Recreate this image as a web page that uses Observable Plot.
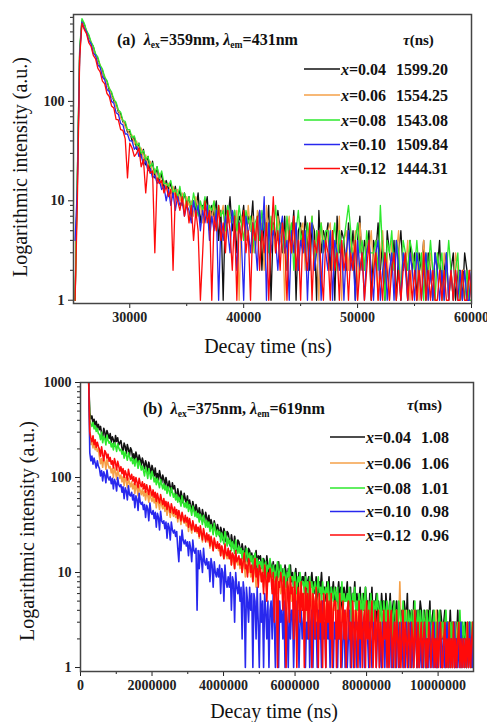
<!DOCTYPE html>
<html><head><meta charset="utf-8">
<script src="https://cdn.jsdelivr.net/npm/d3@7"></script>
<script src="https://cdn.jsdelivr.net/npm/@observablehq/plot@0.6"></script>
<style>
body{margin:0;background:#fff;}
#wrap{position:relative;width:487px;height:722px;overflow:hidden;background:#fff;}
#wrap svg{position:absolute;left:0;display:block;}
</style></head><body><div id="wrap"></div>
<script>
// ---------- data ----------
const seriesNames = ["x=0.04", "x=0.06", "x=0.08", "x=0.10", "x=0.12"];
const seriesColors = ["#111111", "#f5a048", "#2ee82e", "#2828ee", "#ff0a0a"];
const tauA = ["1599.20", "1554.25", "1543.08", "1509.84", "1444.31"];
const tauB = ["1.08", "1.06", "1.01", "0.98", "0.96"];

// panel (a): time channels (ns)
const startA = 25200, stepA = 200;
const blackA = [1,18,320,650,600,500,455,385,355,290,
268,222,205,170,158,130,120,101,95,78,
75,62,60,49,50,40,44,33,38,27,
33,23,28,19,25,17,22,15,19,13,
16,13,15,11,14,10,13,9,12,9,
11,7,10,8,12,6,9,8,11,5,
9,7,10,4,8,1,9,6,11,5,
8,3,7,6,9,4,7,5,10,3,
6,8,2,7,5,9,1,6,4,8,
5,3,7,2,6,4,8,1,5,6,
3,7,4,2,6,5,1,8,3,5,
4,6,2,5,1,7,3,5,4,2,
6,3,5,1,4,7,2,4,3,5,
1,4,3,6,2,4,1,5,3,2,
4,1,3,5,2,3,1,4,2,3,
1,3,2,4,1,3,2,1,3,2,
4,1,2,3,1,2,3,1,2,2,
1,3,2,1,2];
const orangeA = [1,15,300,640,560,520,430,400,330,300,
250,235,190,180,145,138,110,108,88,82,
68,65,55,52,45,46,37,40,31,34,
26,29,22,25,19,21,16,19,14,16,
14,15,12,14,11,13,10,12,8,11,
9,10,7,11,8,9,6,10,7,9,
6,10,5,8,7,9,4,8,6,7,
5,8,1,7,6,4,9,5,7,3,
8,5,6,2,9,4,6,5,3,7,
4,6,1,5,7,3,4,6,2,5,
6,2,5,4,7,3,5,1,6,4,
3,5,6,2,4,3,7,1,4,5,
2,4,3,5,1,6,3,2,4,3,
5,2,4,1,3,5,2,3,1,4,
2,3,5,1,3,2,4,1,3,2,
3,1,2,4,2,1,3,2,1,3,
2,1,3,2,1,2,1,3,2,1,
2,2,1,2,2];
const greenA = [1,20,340,680,615,515,470,398,360,300,
278,230,212,176,162,135,125,104,98,82,
78,64,63,52,52,43,45,36,38,30,
32,26,28,22,24,19,22,17,20,15,
15,14,16,12,13,11,14,10,12,9,
11,8,12,9,7,10,8,11,7,9,
8,10,6,9,7,8,5,9,7,6,
8,5,9,6,4,8,6,7,3,6,
7,4,8,5,6,3,7,5,9,4,
6,5,3,7,4,6,2,5,8,4,
5,3,6,4,7,2,5,4,6,3,
5,5,3,4,6,2,5,3,4,6,
9,5,2,4,6,3,4,2,5,3,
3,3,4,2,9,3,1,4,3,5,
2,4,3,1,4,3,2,4,3,2,
4,2,3,1,3,2,4,2,1,3,
2,3,1,2,4,2,1,2,3,1,
2,1,2,1,1];
const blueA = [4,14,290,630,545,500,410,380,305,290,
232,220,176,165,132,126,100,96,77,74,
60,58,47,47,40,40,33,35,28,29,
23,25,20,21,17,18,15,16,13,14,
10,13,9,12,8,11,9,10,7,9,
8,6,10,7,9,5,8,6,9,4,
7,5,8,1,6,4,7,5,3,8,
5,2,6,4,1,7,5,3,6,4,
2,8,4,11,1,6,3,5,4,2,
5,7,3,4,1,5,3,6,2,4,
3,5,1,4,6,2,3,5,1,4,
3,2,5,1,4,3,2,4,1,3,
5,2,3,1,4,2,3,1,3,4,
2,1,3,4,1,2,3,1,2,3,
1,4,2,1,3,2,1,3,2,1,
3,2,1,2,3,1,2,1,3,2,
1,2,1,3,1,2,1,2,1,2,
1,2,1,1,2];
const redA = [1,10,270,610,530,480,390,358,290,268,
215,198,160,150,120,112,90,86,66,65,
52,51,42,17,38,34,28,30,34,22,
26,12,23,19,20,3,17,15,16,12,
14,11,13,2,12,10,8,11,7,10,
6,9,4,8,5,1,3,10,6,8,
1,7,5,9,4,6,3,8,5,2,
7,1,6,4,8,3,5,1,6,4,
7,2,5,3,6,1,4,11,3,5,
2,6,4,1,5,3,7,2,4,1,
5,3,2,6,1,4,3,5,2,1,
4,3,1,5,2,3,1,4,2,3,
1,3,2,4,1,2,3,1,2,4,
1,2,3,1,2,1,3,2,1,2,
3,1,2,1,2,3,1,2,1,2,
1,2,1,3,1,2,1,2,1,1,
2,1,2,1,1,2,1,2,1,1,
2,1,1,2,1];

// panel (b): time channels (ns)
const startB = 230000, stepB = 30000;
const blackB = [1000,480,415,445,372,410,352,390,330,362,
318,345,290,262,330,300,248,312,286,258,
290,236,268,250,214,276,240,262,220,232,
244,205,186,230,212,178,222,198,170,206,
192,160,178,148,185,166,140,172,155,135,
160,142,124,150,136,115,145,128,110,134,
120,104,126,98,110,94,118,102,88,106,
96,82,100,86,74,92,80,70,88,76,
82,68,60,76,66,56,72,62,54,68,
60,52,64,48,58,50,44,56,49,42,
52,46,38,48,42,36,46,40,34,43,
38,33,40,30,36,32,27,35,31,26,
32,28,24,30,27,22,29,26,21,27,
26,22,19,25,21,18,24,20,17,22,
21,18,16,20,17,14,19,17,13,18,
17,14,16,12,15,13,17,11,15,14,
15,12,11,14,13,10,15,12,9,13,
12,10,13,9,12,11,8,13,10,11,
11,9,8,12,10,7,11,9,12,8,
10,7,9,11,8,6,10,9,7,9,
9,7,10,6,8,9,5,8,10,7,
8,6,9,7,5,8,7,10,6,7,
7,5,8,6,9,4,7,6,8,5,
7,4,6,8,5,7,3,6,7,5,
6,8,4,5,7,3,6,5,8,4,
6,4,5,7,3,5,6,4,7,5,
5,3,6,4,7,3,5,4,6,2,
5,4,3,6,4,5,2,6,4,3,
4,6,3,4,5,2,4,5,3,4,
5,3,4,2,5,4,3,6,2,4,
3,4,2,5,3,4,1,4,3,5,
4,2,3,4,3,1,4,3,5,2,
3,4,2,3,1,4,3,2,4,3,
2,3,4,1,3,3,2,4,2,3,
3,1,3,2,4,2,3,1,3,2,
2,3,1,3,2,3,2,1,3,2];
const orangeB = [1000,258,222,240,205,232,196,215,188,200,
165,140,158,128,162,148,122,155,138,126,
130,112,124,100,126,114,96,120,108,98,
106,90,102,82,100,92,78,98,88,80,
90,76,86,68,84,77,64,82,72,66,
76,64,72,58,71,65,55,70,61,56,
64,54,61,48,60,55,46,59,51,47,
53,44,50,40,49,45,38,48,42,39,
45,38,43,34,42,38,32,41,36,33,
36,31,35,27,34,30,26,33,29,27,
31,26,29,23,29,25,21,28,24,22,
25,21,24,18,23,20,17,22,19,18,
20,17,19,15,19,16,14,18,15,14,
17,14,16,12,15,13,11,16,13,12,
14,11,13,10,14,12,9,13,11,10,
12,9,11,8,12,10,7,11,9,10,
10,8,11,7,9,10,6,9,8,10,
9,7,8,5,9,8,6,10,7,6,
8,6,7,4,8,7,5,9,6,5,
7,5,6,3,7,6,4,8,5,6,
6,4,7,5,3,6,5,7,4,6,
5,4,6,3,5,6,2,5,4,6,
5,3,4,6,2,5,4,3,5,4,
4,5,3,2,5,4,3,5,2,4,
3,4,5,2,4,3,5,2,4,3,
4,3,2,5,3,4,2,3,5,3,
3,2,4,3,5,2,3,4,2,3,
2,4,3,1,3,4,2,3,4,2,
3,2,4,3,2,1,3,4,2,3,
8,3,2,1,3,2,4,2,3,1,
2,3,1,4,2,3,2,1,3,2,
3,2,1,3,2,4,1,2,3,2,
2,1,3,2,4,1,2,3,1,2,
3,2,1,2,3,1,2,2,1,3,
2,1,3,2,1,2,3,1,2,2,
1,2,2,3,1,2,1,3,2,1];
const greenB = [1000,400,370,345,380,325,350,305,330,290,
285,250,300,232,270,258,220,280,245,230,
240,210,228,195,232,215,188,226,205,192,
198,176,190,160,186,170,152,182,165,150,
162,140,155,132,158,145,125,150,138,120,
132,118,104,128,115,98,124,110,96,116,
104,90,100,84,98,88,78,95,85,76,
86,74,82,68,80,72,64,78,70,62,
68,58,66,55,62,57,50,64,56,49,
54,48,56,44,52,46,40,50,45,39,
44,38,42,34,41,37,32,40,35,30,
35,30,34,27,32,29,25,33,28,24,
28,25,27,21,26,23,20,27,24,19,
23,20,22,17,21,19,16,22,18,16,
19,16,18,14,17,15,13,18,16,12,
16,13,15,11,14,16,12,14,10,13,
13,11,14,10,12,13,9,12,11,14,
11,9,12,10,8,11,13,9,10,12,
10,8,11,9,7,10,9,12,8,9,
9,7,10,8,6,9,8,10,7,8,
8,6,9,7,8,5,9,7,8,6,
7,8,5,7,9,6,7,5,8,6,
6,7,5,8,6,4,7,6,5,7,
6,5,7,4,6,5,8,4,6,5,
5,6,4,7,5,3,6,5,7,4,
5,4,6,5,3,6,4,5,7,3,
4,5,3,6,4,5,3,5,4,6,
4,3,5,4,2,5,4,3,5,4,
3,5,4,2,4,5,3,4,2,5,
4,3,2,5,3,4,3,2,4,3,
3,4,2,3,5,2,3,4,2,4,
3,2,4,3,1,4,3,2,4,3,
2,3,4,2,3,1,3,4,2,3,
3,2,3,4,2,3,1,3,2,3,
2,3,2,1,3,2,4,2,3,2,
3,2,1,2,3,2,3,2,1,3];
const blueB = [1000,182,150,168,138,160,142,126,150,132,
124,104,118,92,115,106,88,120,100,94,
102,86,98,76,96,88,72,100,84,80,
84,70,80,60,78,72,58,82,66,64,
70,58,66,48,64,59,45,68,55,52,
55,46,52,38,51,47,35,54,43,41,
45,37,43,30,42,38,28,44,35,33,
35,29,34,23,33,30,22,34,28,26,
28,24,27,18,13,24,17,28,22,20,
22,19,21,15,21,18,13,22,17,16,
18,4,17,11,17,14,10,18,13,12,
14,11,13,8,14,12,7,13,10,9,
11,9,12,6,11,10,5,12,8,7,
9,7,10,4,9,8,3,10,7,6,
8,5,7,2,8,6,1,7,5,3,
7,4,6,1,6,5,2,7,3,1,
6,3,5,1,6,4,2,5,1,4,
5,2,6,3,1,5,4,1,5,3,
4,2,5,1,4,3,1,5,2,4,
4,1,3,5,2,4,1,3,4,2,
3,4,1,3,2,5,1,3,4,1,
4,2,3,1,4,2,3,1,5,2,
3,1,4,2,3,1,4,2,1,3,
2,3,1,4,2,3,1,2,4,1,
3,1,2,4,1,3,2,1,3,2,
1,3,2,1,4,2,3,1,2,3,
2,1,3,2,1,3,2,4,1,2,
3,1,2,1,3,2,1,3,2,1,
2,3,1,2,1,3,2,1,3,2,
1,2,3,1,2,1,3,2,1,2,
3,1,2,1,2,3,1,2,1,2,
1,2,1,3,2,1,2,1,3,1,
2,1,3,1,2,1,2,3,1,2,
1,2,1,2,3,1,2,1,2,1,
2,3,1,2,1,2,1,3,1,2,
1,2,1,2,1,3,1,2,1,2];
const redB = [1000,300,262,238,275,222,250,208,235,212,
198,168,210,175,150,192,182,160,176,148,
162,138,150,126,158,142,120,148,132,116,
130,110,124,100,118,108,94,122,106,96,
108,92,102,84,100,90,78,98,86,80,
90,76,86,70,84,74,66,82,72,64,
74,62,70,56,68,60,54,66,58,52,
60,50,56,46,55,49,43,53,47,42,
49,41,46,37,45,40,35,43,38,34,
40,34,38,30,37,32,28,35,31,27,
32,27,30,24,31,26,22,29,25,21,
26,22,25,19,24,21,17,23,20,18,
21,18,20,15,19,17,14,20,16,15,
18,14,17,12,16,15,11,17,13,14,
15,12,14,10,13,16,11,12,9,14,
13,10,12,8,11,14,9,11,7,12,
11,8,10,6,12,9,5,10,8,11,
9,6,10,3,8,9,1,8,7,10,
8,4,9,6,1,8,7,3,9,6,
7,2,8,5,1,7,6,3,8,4,
6,1,7,4,6,2,8,5,1,6,
5,2,7,4,1,6,3,5,1,6,
4,1,6,3,5,2,6,1,4,5,
5,1,4,2,6,1,3,5,2,4,
1,4,5,2,3,1,5,3,1,4,
3,1,5,2,4,1,3,4,1,5,
2,4,1,3,5,1,2,4,1,3,
4,1,3,2,1,4,2,3,1,4,
1,3,4,1,2,3,1,4,2,1,
3,1,2,4,1,3,2,1,3,2,
1,3,2,1,4,2,1,3,1,2,
3,1,2,3,1,2,1,3,2,1,
2,3,1,2,1,3,1,2,3,1,
1,2,3,1,2,1,3,1,2,1,
3,1,2,1,2,3,1,2,1,2,
1,2,1,3,1,2,1,2,3,1];

const ticksAX = [30000, 40000, 50000, 60000];
const minorAX = [35000, 45000, 55000];
const ticksAY = [1, 10, 100];
const ticksBX = [0, 2000000, 4000000, 6000000, 8000000, 10000000];
const minorBX = [1000000, 3000000, 5000000, 7000000, 9000000];
const ticksBY = [1, 10, 100, 1000];

// ---------- build ----------
function rows(start, step, arrays) {
  const out = [];
  arrays.forEach((arr, k) => arr.forEach((v, i) => out.push({t: start + step * i, v, s: seriesNames[k]})));
  return out;
}
const dataA = rows(startA, stepA, [blackA, orangeA, greenA, blueA, redA]);
const dataB = rows(startB, stepB, [blackB, orangeB, greenB, blueB, redB]);

function minorLog(maxDec) {
  const m = [];
  for (let d = 1; d < maxDec; d *= 10) for (let k = 2; k <= 9; k++) m.push(k * d);
  return m;
}

const FONT = "'Liberation Serif', 'Times New Roman', serif";
const fmt = d => String(d);

function panel(cfg) {
  return Plot.plot({
    width: 487, height: cfg.height,
    marginLeft: cfg.ml, marginRight: cfg.mr, marginTop: cfg.mt, marginBottom: cfg.mb,
    x: {domain: cfg.xdom, label: null},
    y: {type: "log", domain: cfg.ydom, label: null},
    color: {domain: seriesNames, range: seriesColors},
    style: {fontFamily: FONT, fontSize: "14px", fontWeight: "bold", color: "#222", background: "transparent", overflow: "visible"},
    marks: [
      Plot.lineY(cfg.data, {x: "t", y: "v", stroke: "s", z: "s", strokeWidth: cfg.sw, clip: true}),
      Plot.axisX({ticks: cfg.xt, tickSize: 5, tickPadding: 4, tickFormat: fmt, label: null}),
      Plot.axisX({ticks: cfg.xm, tickSize: 3, tickFormat: () => "", label: null}),
      Plot.axisY({ticks: cfg.yt, tickSize: 5, tickPadding: 4, tickFormat: fmt, label: null}),
      Plot.axisY({ticks: cfg.ym, tickSize: 3, tickFormat: () => "", label: null}),
      Plot.frame({stroke: "#444", strokeWidth: 1.5})
    ]
  });
}

const svgA = panel({height: 360, ml: 73, mr: 16, mt: 14, mb: 57, xdom: [25060, 60000], ydom: [0.927, 748],
  data: dataA, sw: 1.3, xt: ticksAX, xm: minorAX, yt: ticksAY, ym: minorLog(1000).filter(v => v < 748)});
const svgB = panel({height: 362, ml: 80, mr: 14, mt: 22, mb: 51, xdom: [0, 10990000], ydom: [0.908, 1000],
  data: dataB, sw: 1.6, xt: ticksBX, xm: minorBX, yt: ticksBY, ym: minorLog(1000)});

const wrap = document.getElementById("wrap");
svgA.style.top = "0px"; svgB.style.top = "360px";
wrap.appendChild(svgA); wrap.appendChild(svgB);

function text(svg, x, y, parts, size, opts = {}) {
  const t = d3.select(svg).append("text").attr("x", x).attr("y", y)
    .attr("font-family", FONT).attr("font-size", size)
    .attr("font-weight", opts.weight || "bold").attr("fill", "#111")
    .attr("text-anchor", opts.anchor || "start");
  if (opts.rotate) t.attr("transform", `rotate(-90 ${x} ${y})`);
  let shift = 0;
  parts.forEach(p => {
    const s = t.append("tspan").text(p.t);
    if (p.i) s.attr("font-style", "italic");
    const want = p.sub ? 3 : 0;
    if (want !== shift) { s.attr("dy", want - shift); shift = want; }
    if (p.sub) s.attr("font-size", size * 0.6);
  });
  return t;
}

function decorate(svg, c) {
  text(svg, c.ylx, c.yly, [{t: "Logarithmic intensity (a.u.)"}], 20, {weight: "normal", anchor: "middle", rotate: true});
  text(svg, c.xlx, c.xly, [{t: "Decay time (ns)"}], 20, {weight: "normal", anchor: "middle"});
  text(svg, c.ax, c.ay, [{t: c.tag + "  "}, {t: "λ", i: true}, {t: "ex", sub: true}, {t: "=" + c.ex + "nm, "},
    {t: "λ", i: true}, {t: "em", sub: true}, {t: "=" + c.em + "nm"}], 16);
  text(svg, c.tx, c.ty, [{t: "τ", i: true}, {t: "(" + c.unit + ")"}], 15);
  const g = d3.select(svg);
  seriesNames.forEach((name, k) => {
    const y = c.ly[k];
    g.append("line").attr("x1", c.l1).attr("x2", c.l2).attr("y1", y).attr("y2", y)
      .attr("stroke", seriesColors[k]).attr("stroke-width", 1.6);
    text(svg, c.l2 + 1, y + 5.5, [{t: "x", i: true}, {t: name.slice(1)}], 16);
    text(svg, c.vx, y + 5.5, [{t: c.vals[k]}], 16);
  });
}

decorate(svgA, {ylx: 27, yly: 167, xlx: 268, xly: 353, ax: 117, ay: 45, tag: "(a)", ex: "359", em: "431",
  tx: 403, ty: 45, unit: "ns", ly: [69, 95, 120, 144.5, 168.5], l1: 304, l2: 340, vx: 396, vals: tauA});
decorate(svgB, {ylx: 34, yly: 171, xlx: 274, xly: 358, ax: 143, ay: 54, tag: "(b)", ex: "375", em: "619",
  tx: 407, ty: 50, unit: "ms", ly: [77, 103, 128, 151.5, 175], l1: 330, l2: 365, vx: 421, vals: tauB});
</script></body></html>
